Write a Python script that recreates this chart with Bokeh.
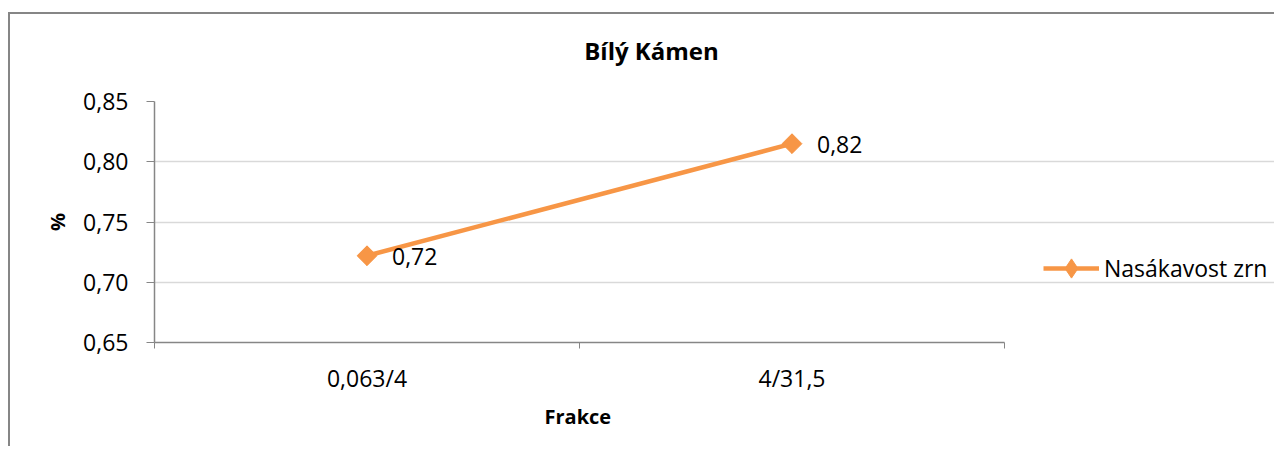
from bokeh.plotting import figure
from bokeh.models import (FixedTicker, CustomJSTickFormatter, ColumnDataSource,
                          LabelSet, Legend, LegendItem, Range1d, Title, LinearAxis)
from bokeh.core.properties import value
from bokeh.embed import file_html
from bokeh.resources import INLINE

# ---- data ----
categories = ["0,063/4", "4/31,5"]
values = [0.722, 0.815]
value_labels = ["0,72", "0,82"]
y_ticks = [0.65, 0.70, 0.75, 0.80, 0.85]
series_name = "Nasákavost zrn"
title_text = "Bílý Kámen"
x_title = "Frakce"
y_title = "%"

ORANGE = "#F79646"
AXIS = "#868686"
GRID = "#D9D9D9"
FONT = "Open Sans"

# layout (pixels)
PLOT_PX = 850      # width of the category area
FRAME_PX = 1122    # frame width incl. legend area on the right
TITLE_CENTER_PX = 497  # title centre, px from frame left
n = len(categories)
x_end = n * FRAME_PX / PLOT_PX
title_x = n * TITLE_CENTER_PX / PLOT_PX

xs = [i + 0.5 for i in range(n)]
src = ColumnDataSource(dict(x=xs, y=values, lbl=value_labels))

p = figure(width=1266, height=434, output_backend="svg", toolbar_location=None,
           x_range=Range1d(0, x_end), y_range=Range1d(y_ticks[0], y_ticks[-1]),
           min_border_left=144, min_border_right=0, min_border_top=87,
           min_border_bottom=106)
p.styles = {"border-left": "2px solid #868686", "border-top": "2px solid #868686",
            "margin-top": "12px", "margin-left": "8px"}
p.outline_line_color = None
p.background_fill_color = "white"
p.border_fill_color = "white"

# x axis (bottom)
xa = p.xaxis[0]
xa.bounds = (0, n)
xa.ticker = FixedTicker(ticks=xs, minor_ticks=list(range(n + 1)))
xa.formatter = CustomJSTickFormatter(args=dict(cats=categories),
                                     code="return cats[Math.floor(tick)];")
xa.major_tick_line_color = None
xa.major_tick_out = 0
xa.major_tick_in = 0
xa.minor_tick_line_color = AXIS
xa.minor_tick_out = 6
xa.minor_tick_in = 0
xa.minor_tick_line_width = 1
xa.axis_line_color = AXIS
xa.axis_line_width = 1.5
xa.major_label_standoff = 13
xa.major_label_text_font = FONT
xa.major_label_text_font_size = "23px"
xa.major_label_text_color = "black"

xt = Title(text=x_title, align="left", offset=390, standoff=8, text_font=FONT,
           text_font_size="20px", text_font_style="bold", text_color="black")
p.add_layout(xt, "below")

# chart title (as a label-only axis above the frame)
ta = LinearAxis(ticker=FixedTicker(ticks=[title_x], minor_ticks=[]),
                formatter=CustomJSTickFormatter(args=dict(t=title_text), code="return t;"),
                axis_line_color=None, major_tick_line_color=None,
                minor_tick_line_color=None, major_tick_out=0, major_tick_in=0,
                major_label_standoff=35, major_label_text_font=FONT,
                major_label_text_font_size="24px", major_label_text_font_style="bold",
                major_label_text_color="black")
p.add_layout(ta, "above")

# y axis
ya = p.yaxis[0]
ya.ticker = FixedTicker(ticks=y_ticks, minor_ticks=[])
ya.formatter = CustomJSTickFormatter(code="return tick.toFixed(2).replace('.', ',');")
ya.major_tick_out = 8
ya.major_tick_in = 0
ya.major_tick_line_color = AXIS
ya.axis_line_color = AXIS
ya.axis_line_width = 1.5
ya.major_label_standoff = 18
ya.major_label_text_font = FONT
ya.major_label_text_font_size = "23px"
ya.major_label_text_color = "black"
ya.axis_label = y_title
ya.axis_label_text_font = FONT
ya.axis_label_text_font_size = "20px"
ya.axis_label_text_font_style = "bold"
ya.axis_label_text_color = "black"
ya.axis_label_standoff = 9

p.xgrid.grid_line_color = None
p.ygrid.ticker = FixedTicker(ticks=y_ticks)
p.ygrid.bounds = (0, n)
p.ygrid.grid_line_color = GRID
p.ygrid.grid_line_width = 1.5

line_r = p.line("x", "y", source=src, line_color=ORANGE, line_width=4.5)
# narrow diamond used for the legend symbol (hidden under the plotted markers)
leg_r = p.scatter("x", "y", source=src, marker="diamond", size=19,
                  fill_color=ORANGE, line_color=ORANGE)
mark_r = p.scatter("x", "y", source=src, marker="square", size=14, angle=0.7853981634,
                   fill_color=ORANGE, line_color=ORANGE)

labels = LabelSet(x="x", y="y", text="lbl", source=src, x_offset=25, y_offset=-1,
                  text_baseline="middle", text_align="left", text_font=value(FONT),
                  text_font_size="23px", text_color="black")
p.add_layout(labels)

legend = Legend(items=[LegendItem(label=series_name, renderers=[line_r, leg_r])],
                location=(889, 50), orientation="vertical",
                glyph_width=56, glyph_height=48, label_standoff=5,
                padding=0, margin=0, border_line_color=None,
                background_fill_alpha=0, label_text_font=FONT,
                label_text_font_size="23px", label_text_color="black")
p.add_layout(legend, "center")

open("out.html", "w").write(file_html(p, INLINE))
